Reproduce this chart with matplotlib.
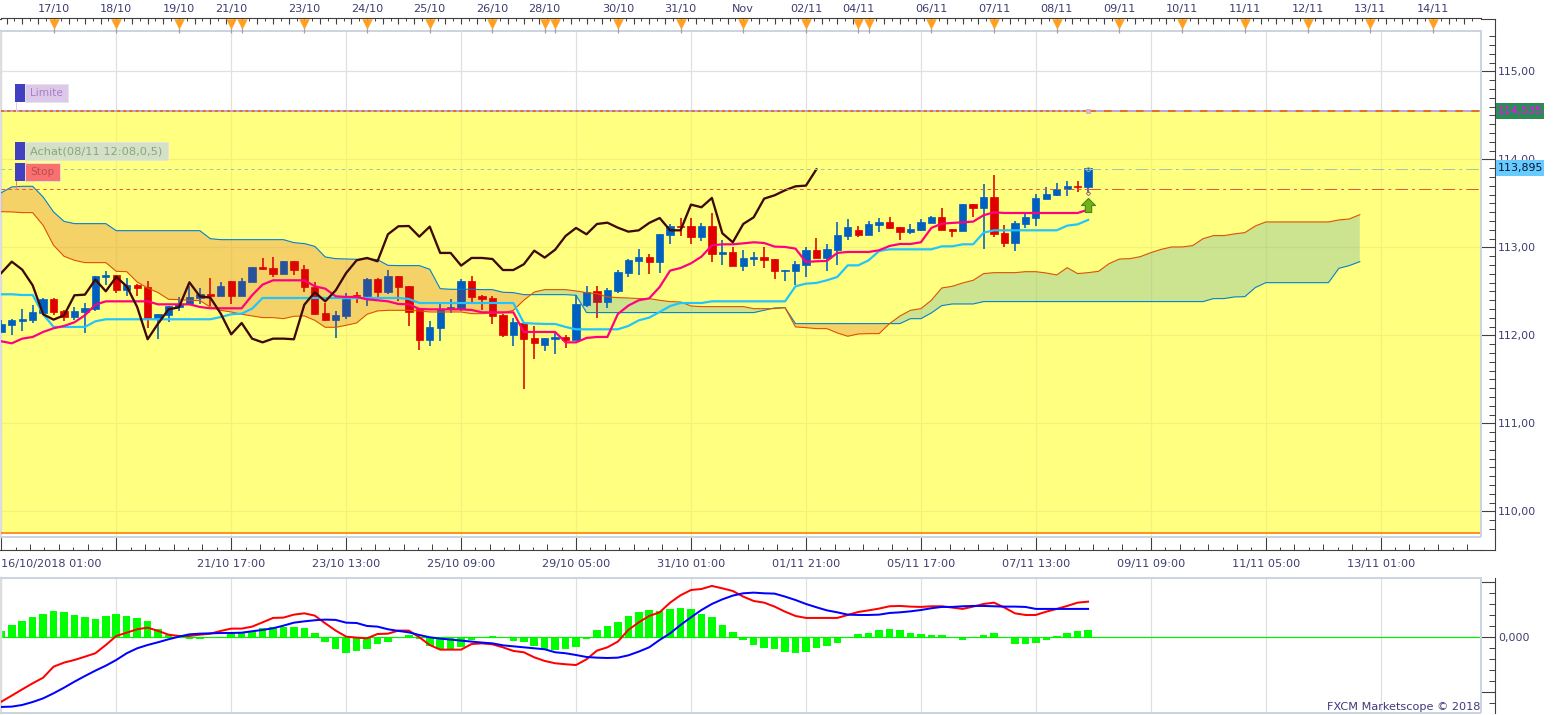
# USD/JPY 4h chart, Ichimoku + MACD, rebuilt from a Marketscope screenshot
import numpy as np
import matplotlib
matplotlib.use("Agg")
import matplotlib.pyplot as plt
from matplotlib.patches import Rectangle
from matplotlib.path import Path

# Candles (one entry per 4h bar)
opens = [112.034, 112.114, 112.159, 112.17, 112.25, 112.409, 112.273, 112.205, 112.261, 112.295,
         112.663, 112.682, 112.511, 112.568, 112.545, 112.193, 112.227, 112.318, 112.352, 112.42,
         112.466, 112.443, 112.614, 112.443, 112.602, 112.773, 112.761, 112.693, 112.841, 112.75,
         112.545, 112.25, 112.17, 112.216, 112.455, 112.443, 112.636, 112.489, 112.67, 112.557,
         112.295, 111.943, 112.08, 112.307, 112.295, 112.614, 112.443, 112.42, 112.227, 112.0,
         112.136, 111.966, 111.886, 111.955, 111.977, 111.943, 112.341, 112.5, 112.375, 112.5,
         112.705, 112.841, 112.886, 112.83, 113.136, 113.239, 113.239, 113.114, 113.239, 112.92,
         112.943, 112.784, 112.864, 112.886, 112.864, 112.727, 112.727, 112.795, 112.966, 112.875,
         112.966, 113.125, 113.193, 113.136, 113.25, 113.284, 113.227, 113.17, 113.193, 113.273,
         113.341, 113.205, 113.182, 113.489, 113.443, 113.568, 113.159, 113.045, 113.261, 113.33,
         113.545, 113.591, 113.659, 113.693, 113.682]
closes = [112.125, 112.17, 112.182, 112.261, 112.409, 112.261, 112.205, 112.273, 112.307, 112.67,
          112.682, 112.511, 112.568, 112.534, 112.193, 112.239, 112.33, 112.352, 112.432, 112.466,
          112.443, 112.557, 112.443, 112.614, 112.773, 112.75, 112.693, 112.841, 112.739, 112.545,
          112.239, 112.17, 112.227, 112.409, 112.443, 112.636, 112.489, 112.67, 112.545, 112.261,
          111.943, 112.091, 112.295, 112.318, 112.614, 112.432, 112.409, 112.216, 112.0, 112.148,
          111.955, 111.909, 111.966, 111.977, 111.943, 112.352, 112.489, 112.375, 112.511, 112.716,
          112.852, 112.886, 112.83, 113.148, 113.239, 113.227, 113.114, 113.239, 112.92, 112.943,
          112.784, 112.875, 112.886, 112.852, 112.727, 112.739, 112.807, 112.966, 112.875, 112.977,
          113.136, 113.227, 113.136, 113.261, 113.284, 113.216, 113.17, 113.205, 113.284, 113.341,
          113.193, 113.182, 113.489, 113.443, 113.568, 113.148, 113.045, 113.273, 113.341, 113.557,
          113.602, 113.659, 113.693, 113.682, 113.898]
highs = [112.17, 112.182, 112.295, 112.341, 112.42, 112.42, 112.284, 112.318, 112.364, 112.67,
         112.727, 112.682, 112.648, 112.58, 112.614, 112.239, 112.33, 112.432, 112.557, 112.534,
         112.648, 112.602, 112.614, 112.648, 112.773, 112.875, 112.886, 112.841, 112.841, 112.795,
         112.602, 112.364, 112.273, 112.477, 112.489, 112.648, 112.648, 112.739, 112.67, 112.557,
         112.295, 112.159, 112.352, 112.409, 112.636, 112.67, 112.455, 112.443, 112.239, 112.193,
         112.148, 112.102, 111.966, 112.034, 112.0, 112.455, 112.557, 112.557, 112.534, 112.739,
         112.864, 112.977, 112.92, 113.148, 113.261, 113.33, 113.33, 113.273, 113.386, 113.08,
         113.0, 112.966, 112.943, 113.0, 112.864, 112.739, 112.841, 113.0, 113.102, 113.034,
         113.284, 113.318, 113.239, 113.295, 113.33, 113.341, 113.227, 113.261, 113.318, 113.352,
         113.443, 113.205, 113.489, 113.489, 113.716, 113.818, 113.25, 113.295, 113.375, 113.602,
         113.682, 113.727, 113.75, 113.75, 113.898]
lows = [112.034, 112.0, 112.045, 112.136, 112.246, 112.227, 112.159, 112.17, 112.023, 112.273,
        112.568, 112.477, 112.443, 112.443, 112.08, 111.955, 112.148, 112.273, 112.341, 112.352,
        112.33, 112.443, 112.352, 112.443, 112.602, 112.739, 112.659, 112.693, 112.682, 112.489,
        112.227, 112.159, 111.966, 112.182, 112.364, 112.33, 112.432, 112.466, 112.386, 112.102,
        111.83, 111.875, 111.932, 112.25, 112.273, 112.375, 112.284, 112.125, 111.977, 111.875,
        111.386, 111.727, 111.818, 111.784, 111.852, 111.943, 112.318, 112.193, 112.307, 112.477,
        112.659, 112.682, 112.693, 112.705, 113.034, 113.125, 113.034, 113.068, 112.83, 112.795,
        112.784, 112.727, 112.784, 112.761, 112.636, 112.614, 112.568, 112.659, 112.875, 112.727,
        112.795, 113.08, 113.114, 113.136, 113.17, 113.205, 113.08, 113.148, 113.182, 113.273,
        113.193, 113.114, 113.182, 113.341, 112.977, 113.114, 113.0, 112.955, 113.216, 113.239,
        113.545, 113.58, 113.58, 113.625, 113.614]

# Ichimoku lines
tenkan = [111.932, 111.909, 111.962, 111.981, 112.038, 112.08, 112.106, 112.148, 112.227, 112.348,
          112.386, 112.386, 112.386, 112.386, 112.386, 112.352, 112.352, 112.352, 112.352, 112.322,
          112.307, 112.307, 112.307, 112.307, 112.455, 112.576, 112.625, 112.625, 112.625, 112.625,
          112.557, 112.53, 112.443, 112.436, 112.436, 112.409, 112.398, 112.386, 112.356, 112.352,
          112.299, 112.295, 112.295, 112.295, 112.295, 112.288, 112.261, 112.261, 112.261, 112.261,
          112.038, 112.038, 112.038, 112.038, 111.92, 111.92, 111.97, 111.981, 111.981, 112.242,
          112.337, 112.398, 112.42, 112.549, 112.735, 112.765, 112.818, 112.894, 113.023, 113.034,
          113.034, 113.045, 113.057, 113.049, 113.008, 113.004, 112.985, 112.833, 112.841, 112.845,
          112.936, 112.947, 112.947, 112.947, 112.966, 113.015, 113.038, 113.038, 113.057, 113.22,
          113.269, 113.277, 113.284, 113.292, 113.364, 113.398, 113.39, 113.39, 113.39, 113.39,
          113.39, 113.39, 113.39, 113.39, 113.428]
kijun = [112.466, 112.466, 112.458, 112.458, 112.239, 112.095, 112.095, 112.095, 112.095, 112.159,
         112.182, 112.182, 112.182, 112.182, 112.182, 112.182, 112.182, 112.182, 112.182, 112.182,
         112.182, 112.208, 112.239, 112.246, 112.303, 112.424, 112.424, 112.424, 112.424, 112.424,
         112.424, 112.424, 112.424, 112.424, 112.424, 112.424, 112.424, 112.424, 112.424, 112.413,
         112.367, 112.367, 112.367, 112.367, 112.367, 112.367, 112.367, 112.367, 112.367, 112.367,
         112.14, 112.133, 112.129, 112.129, 112.095, 112.068, 112.068, 112.068, 112.068, 112.068,
         112.106, 112.17, 112.201, 112.265, 112.333, 112.367, 112.367, 112.367, 112.386, 112.386,
         112.386, 112.386, 112.386, 112.386, 112.386, 112.386, 112.557, 112.587, 112.595, 112.625,
         112.663, 112.795, 112.795, 112.852, 112.958, 112.977, 112.977, 112.977, 112.977, 112.977,
         113.011, 113.011, 113.034, 113.034, 113.167, 113.193, 113.193, 113.193, 113.193, 113.193,
         113.193, 113.193, 113.246, 113.261, 113.311]
chikou = [112.708, 112.837, 112.746, 112.568, 112.239, 112.178, 112.227, 112.455, 112.462, 112.633,
          112.5, 112.663, 112.557, 112.322, 111.955, 112.133, 112.295, 112.318, 112.602, 112.443,
          112.428, 112.246, 112.011, 112.14, 111.962, 111.92, 111.962, 111.962, 111.955, 112.348,
          112.489, 112.386, 112.511, 112.708, 112.852, 112.879, 112.841, 113.148, 113.239, 113.242,
          113.121, 113.235, 112.936, 112.936, 112.792, 112.879, 112.879, 112.867, 112.742, 112.742,
          112.807, 112.962, 112.883, 112.973, 113.129, 113.22, 113.148, 113.265, 113.28, 113.223,
          113.178, 113.193, 113.277, 113.333, 113.193, 113.193, 113.485, 113.455, 113.561, 113.159,
          113.057, 113.265, 113.341, 113.553, 113.591, 113.648, 113.693, 113.701, 113.886]
senkou_a = [113.405, 113.402, 113.394, 113.394, 113.25, 113.023, 112.898, 112.852, 112.826, 112.826,
            112.826, 112.727, 112.723, 112.606, 112.538, 112.485, 112.409, 112.405, 112.398, 112.394,
            112.322, 112.284, 112.265, 112.239, 112.22, 112.201, 112.201, 112.189, 112.216, 112.22,
            112.17, 112.091, 112.091, 112.114, 112.14, 112.239, 112.277, 112.284, 112.284, 112.284,
            112.277, 112.265, 112.265, 112.265, 112.265, 112.246, 112.246, 112.254, 112.254, 112.284,
            112.398, 112.492, 112.519, 112.519, 112.519, 112.504, 112.485, 112.473, 112.436, 112.428,
            112.424, 112.417, 112.417, 112.398, 112.383, 112.379, 112.333, 112.326, 112.326, 112.326,
            112.326, 112.326, 112.303, 112.303, 112.303, 112.314, 112.095, 112.087, 112.076, 112.076,
            112.027, 111.989, 112.015, 112.019, 112.019, 112.133, 112.22, 112.284, 112.303, 112.398,
            112.538, 112.557, 112.595, 112.625, 112.701, 112.712, 112.712, 112.712, 112.723, 112.723,
            112.708, 112.686, 112.769, 112.701, 112.712, 112.727, 112.814, 112.867, 112.871, 112.894,
            112.939, 112.977, 113.004, 113.004, 113.019, 113.098, 113.133, 113.133, 113.152, 113.167,
            113.242, 113.288, 113.288, 113.288, 113.288, 113.288, 113.288, 113.288, 113.311, 113.322,
            113.371]
senkou_b = [113.621, 113.686, 113.693, 113.693, 113.572, 113.402, 113.295, 113.269, 113.269, 113.269,
            113.269, 113.189, 113.189, 113.189, 113.189, 113.189, 113.189, 113.189, 113.189, 113.189,
            113.098, 113.087, 113.087, 113.087, 113.087, 113.087, 113.087, 113.087, 113.053, 113.042,
            113.011, 112.89, 112.871, 112.867, 112.864, 112.871, 112.86, 112.795, 112.792, 112.792,
            112.792, 112.75, 112.53, 112.523, 112.523, 112.523, 112.519, 112.519, 112.489, 112.485,
            112.462, 112.462, 112.462, 112.462, 112.462, 112.455, 112.258, 112.258, 112.258, 112.258,
            112.258, 112.258, 112.258, 112.258, 112.258, 112.258, 112.258, 112.258, 112.258, 112.258,
            112.258, 112.258, 112.258, 112.284, 112.311, 112.314, 112.133, 112.133, 112.133, 112.133,
            112.133, 112.133, 112.133, 112.133, 112.133, 112.133, 112.133, 112.189, 112.189, 112.254,
            112.337, 112.356, 112.356, 112.356, 112.383, 112.383, 112.383, 112.383, 112.383, 112.383,
            112.383, 112.383, 112.383, 112.383, 112.383, 112.383, 112.383, 112.383, 112.383, 112.383,
            112.383, 112.383, 112.383, 112.383, 112.383, 112.383, 112.417, 112.417, 112.436, 112.439,
            112.542, 112.598, 112.598, 112.598, 112.598, 112.598, 112.598, 112.598, 112.761, 112.792,
            112.837]

# MACD panel
macd_hist = [.058, .112, .148, .185, .212, .239, .230, .203, .185, .167,
             .194, .212, .194, .176, .148, .076, .024, .006, -.015, -.015,
             -.003, 0, .036, .036, .055, .082, .094, .091, .094, .085,
             .039, -.039, -.103, -.142, -.124, -.106, -.061, -.042, 0, .018,
             -.018, -.079, -.106, -.109, -.091, -.024, 0, .012, 0, -.036,
             -.042, -.079, -.106, -.115, -.106, -.091, -.012, .067, .103, .139,
             .194, .230, .248, .239, .258, .267, .258, .212, .185, .112,
             .048, -.021, -.070, -.097, -.106, -.133, -.142, -.133, -.097, -.079,
             -.052, 0, .030, .039, .067, .076, .067, .039, .030, .021,
             .021, 0, -.021, 0, .021, .039, 0, -.061, -.061, -.052,
             -.024, .012, .039, .058, .067]
macd_line = [-.585, -.530, -.473, -.418, -.367, -.267, -.230, -.206, -.176, -.145,
             -.070, .012, .042, .073, .088, .058, .024, .012, .012, .024,
             .033, .058, .079, .079, .097, .136, .176, .179, .206, .218,
             .197, .127, .061, .006, -.003, -.009, .030, .033, .061, .061,
             0, -.070, -.112, -.112, -.112, -.061, -.055, -.064, -.091, -.124,
             -.136, -.182, -.215, -.236, -.245, -.252, -.200, -.121, -.091, -.039,
             .067, .136, .194, .227, .315, .382, .430, .439, .467, .445,
             .421, .370, .330, .315, .279, .233, .194, .176, .176, .176,
             .176, .203, .230, .245, .261, .282, .285, .279, .276, .282,
             .282, .270, .258, .279, .303, .315, .270, .218, .203, .203,
             .233, .258, .285, .315, .324]
macd_signal = [-.633, -.630, -.615, -.588, -.555, -.509, -.458, -.403, -.352, -.303,
               -.258, -.206, -.145, -.100, -.070, -.045, -.018, .006, .027, .033,
               .036, .039, .039, .042, .055, .067, .082, .106, .133, .145,
               .155, .161, .158, .133, .130, .103, .097, .073, .058, .045,
               .021, 0, -.012, -.021, -.030, -.039, -.048, -.055, -.073, -.082,
               -.091, -.100, -.109, -.136, -.145, -.161, -.179, -.185, -.188, -.185,
               -.164, -.130, -.091, -.024, .036, .112, .182, .248, .303, .345,
               .379, .400, .406, .400, .397, .370, .339, .303, .273, .245,
               .227, .206, .203, .203, .206, .221, .227, .236, .248, .264,
               .276, .276, .282, .285, .285, .282, .279, .279, .276, .258,
               .258, .258, .258, .258, .258]

# Order levels
limit_level = 114.549
entry_level = 113.895
stop_level = 113.66
floor_level = 109.757
signal_bar = 104
signal_price = 113.484

# Axis text
price_ticks = [110, 111, 112, 113, 114, 115]
price_labels = ["110,00", "111,00", "112,00", "113,00", "114,00", "115,00"]
time_labels = ["16/10/2018 01:00", "", "21/10 17:00", "23/10 13:00", "25/10 09:00", "29/10 05:00",
               "31/10 01:00", "01/11 21:00", "05/11 17:00", "07/11 13:00", "09/11 09:00",
               "11/11 05:00", "13/11 01:00"]
day_labels = ["17/10", "18/10", "19/10", "21/10", "23/10", "24/10", "25/10", "26/10", "28/10",
              "30/10", "31/10", "Nov", "02/11", "04/11", "06/11", "07/11", "08/11", "09/11",
              "10/11", "11/11", "12/11", "13/11", "14/11"]
day_bars = [5, 11, 17, 22, 29, 35, 41, 47, 52, 59, 65, 71, 77, 82, 89, 95, 101, 107, 113, 119, 125, 131, 137]
extra_flag_bars = [23, 53, 83]

W, H = 1553, 715
PT = 0.72  # one pixel in points at dpi 100
plt.rcParams["font.family"] = "DejaVu Sans"
plt.rcParams["lines.scale_dashes"] = False
INK = "#3C3C70"
AXIS = "#404040"
FRAME = "#CCD4E0"

fig = plt.figure(figsize=(W / 100, H / 100), dpi=100, facecolor="white")


def px_axes(left, top, right, bottom):
    return fig.add_axes([left / W, (H - bottom) / H, (right - left) / W, (bottom - top) / H])


ax = px_axes(1, 31, 1481, 537)
ax2 = px_axes(1, 578, 1481, 713)
over = fig.add_axes([0, 0, 1, 1], zorder=20)
over.set_xlim(0, W)
over.set_ylim(H, 0)
over.axis("off")

x_lim = (-0.03, 141.6)
bars = np.arange(len(opens))
o, c = np.array(opens), np.array(closes)
grid_bars = np.arange(0, 142, 11)

# Main chart
ax.set_xlim(*x_lim)
ax.set_ylim(109.708, 115.458)
ax.axhspan(floor_level, limit_level, color="#FFFF80", lw=0, zorder=1)
for g in grid_bars[1:]:
    ax.plot([g, g], [115.458, limit_level], color="#E0E0E4", lw=1.2 * PT, zorder=1.5)
    ax.plot([g, g], [limit_level, 109.708], color="#F5F07C", lw=1.2 * PT, zorder=1.5)
for p in price_ticks:
    ax.axhline(p, color="#E0E0E4" if p == 115 else "#F5F07C", lw=1.2 * PT, zorder=1.5)

# Candles: blue up, red down
colors = np.where(c >= o, "#0060C0", "#E00000")
ax.vlines(bars, lows, highs, colors=colors, lw=1.6 * PT, zorder=3)
ax.bar(bars, np.abs(c - o), bottom=np.minimum(o, c), width=0.7, color=colors,
       edgecolor=colors, lw=0.7 * PT, zorder=3)

# Cloud goes over the candles
cloud_x = np.arange(len(senkou_a))
sa, sb = np.array(senkou_a), np.array(senkou_b)
ax.fill_between(cloud_x, sa, sb, where=sa <= sb, interpolate=True, color="#CD1E0A", alpha=0.2, lw=0, zorder=4)
ax.fill_between(cloud_x, sa, sb, where=sa >= sb, interpolate=True, color="#0078D2", alpha=0.2, lw=0, zorder=4)
ax.plot(cloud_x, sb, color="#0080D0", lw=1.1 * PT, zorder=4.5)
ax.plot(cloud_x, sa, color="#E05000", lw=1.1 * PT, zorder=4.6)

ax.plot(bars, kijun, color="#20C4FF", lw=2.2 * PT, zorder=5)
ax.plot(bars, tenkan, color="#FF0080", lw=2.2 * PT, zorder=5.1)
ax.plot(np.arange(len(chikou)), chikou, color="#400808", lw=2.3 * PT, zorder=5.2)

# Order lines, tighter dashes up to the last bar
ax.plot(x_lim, [limit_level] * 2, color="#B8A8E0", lw=2 * PT, zorder=6, solid_capstyle="butt")
ax.plot([x_lim[0], signal_bar], [limit_level] * 2, color="#F06000", lw=1.6 * PT, ls=(0, (2.2, 2.2)), zorder=6.1)
ax.plot([signal_bar, x_lim[1]], [limit_level] * 2, color="#F06000", lw=1.6 * PT, ls=(0, (5.5, 6)), zorder=6.1)
ax.plot([x_lim[0], signal_bar], [entry_level] * 2, color="#9CC8A8", lw=1 * PT, ls=(0, (2.5, 2.5)), zorder=6)
ax.plot([signal_bar, x_lim[1]], [entry_level] * 2, color="#9CC8A8", lw=1 * PT, ls=(0, (9, 3, 2, 3)), zorder=6)
ax.plot([x_lim[0], signal_bar], [stop_level] * 2, color="#F05040", lw=1 * PT, ls=(0, (2.5, 2.5)), zorder=6)
ax.plot([signal_bar, x_lim[1]], [stop_level] * 2, color="#F05040", lw=1 * PT, ls=(0, (9, 3, 2, 3)), zorder=6)
ax.axhline(floor_level, color="#FF7800", lw=1.6 * PT, zorder=6)

# Buy arrow on the last bar
arrow = Path([(0, 1), (1, 0), (0.45, 0), (0.45, -1), (-0.45, -1), (-0.45, 0), (-1, 0), (0, 1)])
ax.plot([signal_bar], [signal_price], marker=arrow, ms=14 * PT, mfc="#74B01E", mec="#3F8A12", mew=0.8, zorder=7)
ax.plot([signal_bar], [entry_level], marker="o", ms=4 * PT, mfc="none", mec="#9AB0A8", mew=0.7, zorder=7)
ax.plot([signal_bar], [113.62], marker="D", ms=3 * PT, mfc="none", mec="#B06080", mew=0.7, zorder=7)
ax.plot([signal_bar], [limit_level], marker="s", ms=3.5 * PT, mfc="#E8B0D8", mec="#C8A0D8", mew=0.5, zorder=7)

# Bottom time axis
ax.spines["bottom"].set_position(("outward", 13 * PT))
ax.spines["bottom"].set_color(AXIS)
ax.set_xticks(grid_bars[:len(time_labels)], time_labels, fontsize=8.1, color=INK)
ax.set_xticks(np.arange(2.75, 141, 2.75), minor=True)
ax.tick_params(axis="x", which="major", direction="in", length=13 * PT, color=AXIS, pad=9 * PT)
ax.tick_params(axis="x", which="minor", direction="in", length=6 * PT, color=AXIS, width=0.7)
ax.get_xticklabels()[0].set_ha("left")
short_x = np.arange(1.375, 141, 2.75)
ax.vlines(short_x, -13 / 506, -10.3 / 506, transform=ax.get_xaxis_transform(), colors=AXIS, lw=0.7, clip_on=False)

# Top day axis with the orange flags
top = ax.secondary_xaxis("top")
top.spines["top"].set_position(("outward", 12.5 * PT))
top.spines["top"].set_color(AXIS)
top.set_xticks(np.arange(0.5, 141, 1.5), labels=[])
top.set_xticks(np.arange(1.25, 141, 1.5), minor=True)
top.tick_params(axis="x", which="major", direction="in", length=5.5 * PT, color=AXIS, width=0.8)
top.tick_params(axis="x", which="minor", direction="in", length=3 * PT, color=AXIS, width=0.7)
xt = ax.get_xaxis_transform()
for d, lab in zip(day_bars, day_labels):
    ax.text(d, (537 - 9) / 506, lab, transform=xt, ha="center", va="center", fontsize=8.1, color=INK, clip_on=False)
flag_bars = day_bars + extra_flag_bars
ax.vlines(flag_bars, (537 - 33) / 506, (537 - 28) / 506, transform=xt, colors="#9AA4B0", lw=0.9, clip_on=False, zorder=7)
ax.scatter(flag_bars, [(537 - 24) / 506] * len(flag_bars), transform=xt, marker="v", s=(10.5 * PT) ** 2,
           color="#FFA020", lw=0, clip_on=False, zorder=8)

# Right price axis
ax.yaxis.tick_right()
ax.spines["right"].set_position(("outward", 14 * PT))
ax.spines["right"].set_color(AXIS)
ax.set_yticks(price_ticks, price_labels, fontsize=7.8, color=INK)
ax.set_yticks(np.arange(109.8, 115.45, 0.1), minor=True)
ax.tick_params(axis="y", which="major", direction="in", length=14 * PT, color=AXIS, pad=3 * PT)
ax.tick_params(axis="y", which="minor", direction="in", length=6 * PT, color=AXIS, width=0.7)
ax.spines["top"].set_color(FRAME)
ax.spines["top"].set_linewidth(2 * PT)
ax.spines["left"].set_color("#DDDDE0")
ax.spines["left"].set_linewidth(2.5 * PT)

# MACD panel
ax2.set_xlim(*x_lim)
ax2.set_ylim(-0.688, 0.539)
for g in grid_bars[1:]:
    ax2.axvline(g, color="#E0E0E4", lw=1.2 * PT, zorder=1)
ax2.bar(bars, macd_hist, width=0.72, color="#00FF00", lw=0, zorder=2)
ax2.axhline(0, color="#00F000", lw=1.2 * PT, zorder=2.5)
ax2.plot(bars, macd_line, color="#FF0000", lw=2 * PT, zorder=3)
ax2.plot(bars, macd_signal, color="#0000FF", lw=2 * PT, zorder=3.1)
ax2.set_xticks([])
ax2.yaxis.tick_right()
ax2.spines["bottom"].set_visible(False)
ax2.spines["right"].set_position(("outward", 14 * PT))
ax2.spines["right"].set_color(AXIS)
ax2.spines["top"].set_color(FRAME)
ax2.spines["top"].set_linewidth(2 * PT)
ax2.spines["left"].set_color("#DDDDE0")
ax2.spines["left"].set_linewidth(2.5 * PT)
ax2.set_yticks([-0.5, 0, 0.5], ["", "0,000", ""], fontsize=7.8, color=INK)
ax2.set_yticks(np.arange(-0.6, 0.55, 0.1), minor=True)
ax2.tick_params(axis="y", which="major", direction="in", length=14 * PT, color=AXIS, pad=3 * PT)
ax2.tick_params(axis="y", which="minor", direction="in", length=6 * PT, color=AXIS, width=0.7)

# Pixel layer: frame pieces, axis ends, order tags
for x0, y0, x1, y1 in [(1481, 31, 1481, 537), (0, 537, 1481, 537), (1481, 578, 1481, 713), (0, 713, 1481, 713)]:
    over.plot([x0, x1], [y0, y1], color=FRAME, lw=2 * PT, solid_capstyle="butt")
for x0, y0, x1, y1 in [(1495, 19, 1495, 31), (1495, 537, 1495, 550), (1481, 18.5, 1495, 18.5),
                       (1481, 550, 1495, 550), (0, 550, 1, 550), (0, 18.5, 1, 18.5)]:
    over.plot([x0, x1], [y0, y1], color=AXIS, lw=0.8, solid_capstyle="projecting")

tags = [("Limite", 84, 68, "#DCC8E8", "#A880C8", 111, "#E8C8E8", 7.6),
        ("Achat(08/11 12:08,0,5)", 142, 168, "#D4E0C8", "#88A878", 160, "#D4E0C8", 8.2),
        ("Stop", 163, 60, "#F87070", "#C04C4C", 189, "#F08070", 7.6)]
for label, y, right, fill, ink, pole_end, pole, size in tags:
    over.plot([15.5, 15.5], [y + 18, pole_end], color=pole, lw=1 * PT)
    over.add_patch(Rectangle((25, y), right - 25, 18, fc=fill, ec="#E4E4E4", lw=0.6))
    over.add_patch(Rectangle((15, y), 10, 18, fc="#4040C0", ec="none"))
    over.text(30, y + 9, label, fontsize=size, color=ink, va="center", ha="left")

over.add_patch(Rectangle((1496, 103), 48, 16, fc="#2E8B57", ec="none"))
over.text(1520, 111, "114,535", fontsize=7.9, color="#FF00FF", ha="center", va="center")
over.add_patch(Rectangle((1496, 160), 48, 16, fc="#66CCFF", ec="none"))
over.text(1520, 168, "113,895", fontsize=7.9, color="#101030", ha="center", va="center")
over.text(1480, 706.5, "FXCM Marketscope © 2018", fontsize=8.1, color="#403878", ha="right", va="center")

fig.savefig("out.png", dpi=100)
